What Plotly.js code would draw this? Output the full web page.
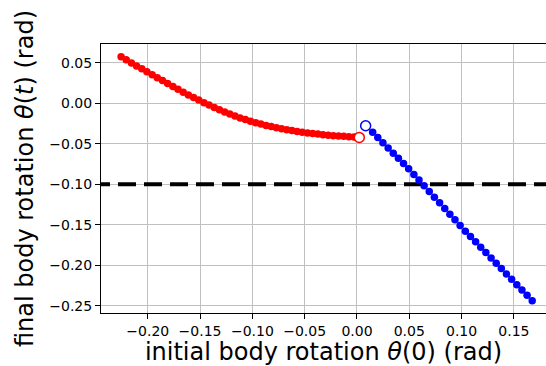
<!DOCTYPE html>
<html>
<head>
<meta charset="utf-8">
<script src="https://cdn.plot.ly/plotly-3.0.1.min.js"></script>
<style>
  html, body { margin: 0; padding: 0; background: #ffffff; }
  #chart { width: 546px; height: 366px; }
</style>
</head>
<body>
<div id="chart"></div>
<script>
// Branch that starts at negative initial rotation (red)
const redX = [
  -0.2255, -0.2206, -0.2156, -0.2107, -0.2057, -0.2008, -0.1958, -0.1909,
  -0.1859, -0.1810, -0.1760, -0.1711, -0.1661, -0.1612, -0.1562, -0.1513,
  -0.1463, -0.1414, -0.1364, -0.1315, -0.1265, -0.1216, -0.1166, -0.1117,
  -0.1067, -0.1018, -0.0968, -0.0919, -0.0869, -0.0820, -0.0770, -0.0721,
  -0.0671, -0.0622, -0.0572, -0.0523, -0.0473, -0.0424, -0.0374, -0.0325,
  -0.0275, -0.0226, -0.0176, -0.0127, -0.0077, -0.0028
];
const redY = [
   0.0573,  0.0535,  0.0497,  0.0460,  0.0423,  0.0386,  0.0350,  0.0314,
   0.0278,  0.0242,  0.0206,  0.0171,  0.0136,  0.0102,  0.0069,  0.0038,
   0.0006, -0.0024, -0.0054, -0.0082, -0.0108, -0.0134, -0.0159, -0.0182,
  -0.0203, -0.0223, -0.0241, -0.0258, -0.0275, -0.0289, -0.0304, -0.0316,
  -0.0328, -0.0339, -0.0350, -0.0359, -0.0367, -0.0375, -0.0382, -0.0389,
  -0.0395, -0.0402, -0.0407, -0.0410, -0.0414, -0.0417
];

// Branch that starts at positive initial rotation (blue)
const blueX = [
  0.0150, 0.0199, 0.0248, 0.0298, 0.0347, 0.0396, 0.0445, 0.0494,
  0.0544, 0.0593, 0.0642, 0.0691, 0.0740, 0.0790, 0.0839, 0.0888,
  0.0937, 0.0986, 0.1036, 0.1085, 0.1134, 0.1183, 0.1232, 0.1282,
  0.1331, 0.1380, 0.1429, 0.1478, 0.1528, 0.1577, 0.1626, 0.1675
];
const blueY = [
  -0.0360, -0.0424, -0.0488, -0.0553, -0.0617, -0.0681, -0.0746, -0.0810,
  -0.0880, -0.0950, -0.1020, -0.1090, -0.1160, -0.1230, -0.1300, -0.1370,
  -0.1440, -0.1510, -0.1580, -0.1646, -0.1712, -0.1778, -0.1844, -0.1910,
  -0.1976, -0.2042, -0.2108, -0.2174, -0.2240, -0.2306, -0.2372, -0.2438
];

// Branch end points next to zero (hollow markers)
const redEdge = { x: [0.0022], y: [-0.0423] };
const blueEdge = { x: [0.0083], y: [-0.0279] };

// Threshold rotation
const threshold = -0.10;

// Axis ticks
const xTicks = [-0.20, -0.15, -0.10, -0.05, 0.00, 0.05, 0.10, 0.15];
const yTicks = [0.05, 0.00, -0.05, -0.10, -0.15, -0.20, -0.25];

const xRange = [-0.2447, 0.1807];
const yRange = [-0.2590, 0.0730];

const FONT = 'DejaVu Sans, sans-serif';
const GRID = '#c0c0c0';

const traces = [
  {
    x: redX, y: redY, type: 'scatter', mode: 'markers',
    marker: { color: '#ff0000', size: 7.5, line: { width: 0 } },
    hoverinfo: 'x+y'
  },
  {
    x: blueX, y: blueY, type: 'scatter', mode: 'markers',
    marker: { color: '#0000ff', size: 7.5, line: { width: 0 } },
    hoverinfo: 'x+y'
  },
  {
    x: redEdge.x, y: redEdge.y, type: 'scatter', mode: 'markers',
    marker: { color: '#ffffff', size: 10, line: { color: '#ff0000', width: 1.5 } },
    hoverinfo: 'x+y'
  },
  {
    x: blueEdge.x, y: blueEdge.y, type: 'scatter', mode: 'markers',
    marker: { color: '#ffffff', size: 10, line: { color: '#0000ff', width: 1.5 } },
    hoverinfo: 'x+y'
  }
];

const layout = {
  width: 546,
  height: 366,
  margin: { l: 101, r: 0, t: 44, b: 53, pad: 0 },
  paper_bgcolor: '#ffffff',
  plot_bgcolor: '#ffffff',
  showlegend: false,
  font: { family: FONT, size: 14, color: '#000000' },
  xaxis: {
    range: xRange,
    tickvals: xTicks,
    tickformat: '.2f',
    ticks: 'outside', ticklen: 5, tickwidth: 1, tickcolor: '#000000',
    showline: true, linecolor: '#000000', linewidth: 1, mirror: true,
    showgrid: true, gridcolor: GRID, gridwidth: 1,
    zeroline: false,
    tickfont: { family: FONT, size: 14, color: '#000000' },
    title: {
      text: 'initial body rotation <i>θ</i>(0) (rad)',
      font: { family: FONT, size: 24, color: '#000000' },
      standoff: 10
    },
    automargin: false
  },
  yaxis: {
    range: yRange,
    tickvals: yTicks,
    tickformat: '.2f',
    ticks: 'outside', ticklen: 5, tickwidth: 1, tickcolor: '#000000',
    showline: true, linecolor: '#000000', linewidth: 1, mirror: false,
    showgrid: true, gridcolor: GRID, gridwidth: 1,
    zeroline: false,
    tickfont: { family: FONT, size: 14, color: '#000000' },
    title: {
      text: 'final body rotation <i>θ</i>(<i>t</i>) (rad)',
      font: { family: FONT, size: 24, color: '#000000' },
      standoff: 8
    },
    automargin: false
  },
  shapes: [
    {
      type: 'line', layer: 'between',
      xref: 'x', yref: 'y',
      x0: -0.2533, x1: xRange[1],
      y0: threshold, y1: threshold,
      line: { color: '#000000', width: 4, dash: '18px,8px' }
    }
  ]
};

Plotly.newPlot('chart', traces, layout, { displayModeBar: false, staticPlot: true });
</script>
</body>
</html>
